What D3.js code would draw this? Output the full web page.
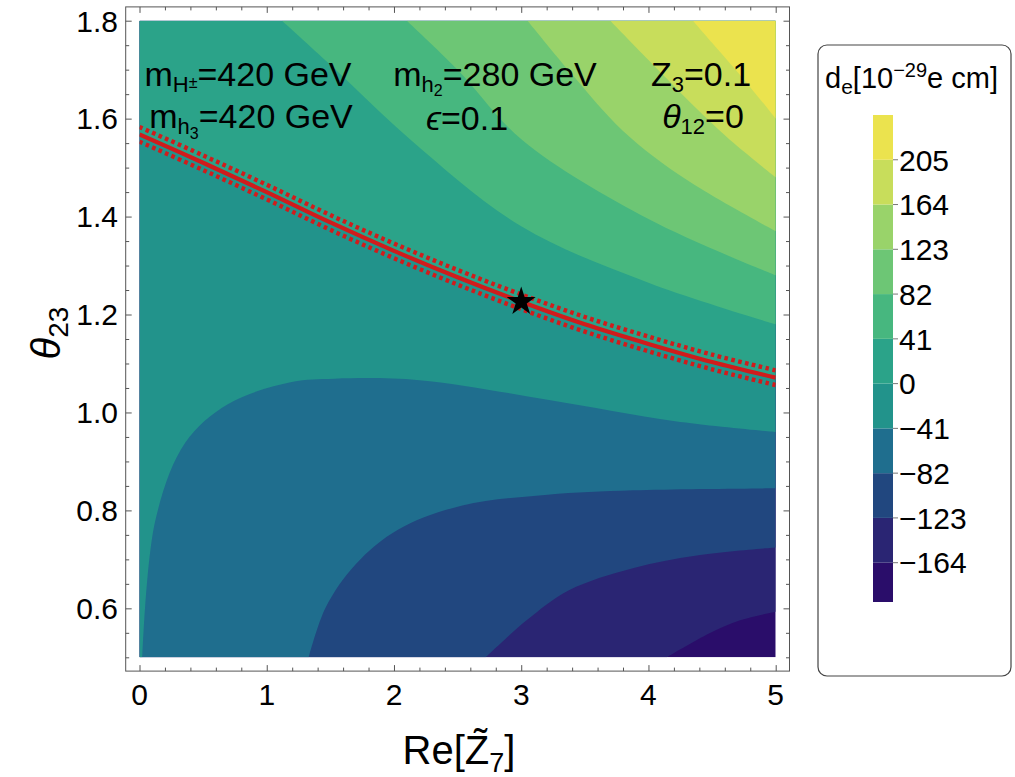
<!DOCTYPE html>
<html>
<head>
<meta charset="utf-8">
<script src="https://cdn.jsdelivr.net/npm/d3@7"></script>
<style>
  body { margin: 0; background: #fff; }
  svg { display: block; }
  text { font-family: "Liberation Sans", Arial, Helvetica, sans-serif; fill: #000; }
</style>
</head>
<body>
<svg id="chart" width="1015" height="777"></svg>
<script>
// contour levels of d_e and the colour of each band (lowest band first)
const levels = [-164, -123, -82, -41, 0, 41, 82, 123, 164, 205];
const bandColors = ["#2a0d6a", "#2a2573", "#21477f", "#1f6e8e", "#22938b", "#2ba389",
                    "#47b77f", "#6dc675", "#99d36a", "#c8dd5b", "#ebe34e"];
const cbarRange = [-200, 246];

// contour lines, [Re Z7, theta23]
const cm164 = [[4.145, 0.5], [4.48, 0.549], [4.715, 0.575], [5, 0.593]];
const cm123 = [[2.72, 0.5], [3.04, 0.575], [3.375, 0.637], [3.877, 0.682], [4.38, 0.708], [5, 0.724]];
const cm82 = [[1.33, 0.5], [1.464, 0.602], [1.699, 0.69], [2.034, 0.761], [2.537, 0.81],
              [3.207, 0.832], [3.877, 0.841], [5, 0.845]];
const cm41 = [[0.023, 0.5], [0.124, 0.779], [0.359, 0.938], [0.694, 1.017], [1.196, 1.062],
              [1.532, 1.069], [2.2, 1.066], [3.207, 1.026], [4.21, 0.982], [5, 0.96]];
const c0 = [[0, 1.568], [0.5, 1.51], [1, 1.45], [1.5, 1.388], [2, 1.33], [2.5, 1.276],
            [3, 1.226], [3.5, 1.18], [4, 1.14], [4.5, 1.103], [5, 1.071]];
const c41 = [[1.12, 1.8], [1.5, 1.71], [2.13, 1.557], [3, 1.38], [4, 1.265], [5, 1.18]];
const c82 = [[2.1, 1.8], [2.5, 1.7], [3.01, 1.556], [4, 1.395], [5, 1.28]];
const c123 = [[3.05, 1.8], [3.4, 1.69], [3.8, 1.575], [4.3, 1.475], [5, 1.37]];
const c164 = [[3.7, 1.8], [4.0, 1.72], [4.4, 1.615], [4.67, 1.55], [5, 1.48]];
const c205 = [[4.35, 1.8], [4.5, 1.755], [4.75, 1.68], [5, 1.6]];

// measured line (red) with its dotted band, and the benchmark point
const redLine = c0;
const redUpper = [[0, 1.583], [0.5, 1.525], [1, 1.465], [1.5, 1.403], [2, 1.345], [2.5, 1.291],
                  [3, 1.241], [3.5, 1.195], [4, 1.155], [4.5, 1.118], [5, 1.086]];
const redLower = [[0, 1.553], [0.5, 1.495], [1, 1.435], [1.5, 1.373], [2, 1.315], [2.5, 1.261],
                  [3, 1.211], [3.5, 1.165], [4, 1.125], [4.5, 1.088], [5, 1.056]];
const benchmark = [3.0, 1.226];

const xTicks = [0, 1, 2, 3, 4, 5];
const yTicks = [0.6, 0.8, 1.0, 1.2, 1.4, 1.6, 1.8];

const svg = d3.select("#chart");
const x = d3.scaleLinear().domain([0, 5]).range([139.5, 775.7]);
const y = d3.scaleLinear().domain([0.5, 1.8]).range([657.3, 20.7]);
const pad = 13.8;
const fx0 = x(0) - pad, fx1 = x(5) + pad, fy0 = y(1.8) - pad, fy1 = y(0.5) + pad;

svg.append("clipPath").attr("id", "plotclip")
  .append("rect")
  .attr("x", x(0)).attr("y", y(1.8))
  .attr("width", x(5) - x(0)).attr("height", y(0.5) - y(1.8));

const plot = svg.append("g").attr("clip-path", "url(#plotclip)");

// lowest band fills the whole region, every contour paints the side above it
plot.append("rect")
  .attr("x", x(0)).attr("y", y(1.8))
  .attr("width", x(5) - x(0)).attr("height", y(0.5) - y(1.8))
  .attr("fill", bandColors[0]);

const curve = d3.line().x(d => x(d[0])).y(d => y(d[1])).curve(d3.curveCatmullRom.alpha(0.5));
const leftSide = [[5, 1.8], [0, 1.8], [0, 0.5]];
const topSide = [[5, 1.8]];
const contours = [cm164, cm123, cm82, cm41, c0, c41, c82, c123, c164, c205];

contours.forEach((pts, i) => {
  const corners = levels[i] <= 0 ? leftSide : topSide;
  const d = curve(pts) + corners.map(c => "L" + x(c[0]) + "," + y(c[1])).join("") + "Z";
  plot.append("path").attr("d", d).attr("fill", bandColors[i + 1]);
});

// red line with dotted edges
[redUpper, redLower].forEach(pts => {
  plot.append("path").attr("d", curve(pts))
    .attr("fill", "none").attr("stroke", "#d01c1c")
    .attr("stroke-width", 4.4).attr("stroke-dasharray", "3.6,3.4");
});
plot.append("path").attr("d", curve(redLine))
  .attr("fill", "none").attr("stroke", "#d01c1c").attr("stroke-width", 4.2);

svg.append("path")
  .attr("d", d3.symbol(d3.symbolStar, 260)())
  .attr("transform", `translate(${x(benchmark[0])},${y(benchmark[1])})`)
  .attr("fill", "#000");

// text with sub/superscripts, s = shift down in px
function richText(sel, tx, ty, parts, size, anchor) {
  const t = sel.append("text").attr("x", tx).attr("y", ty)
    .attr("font-size", size).attr("text-anchor", anchor || "start");
  let cur = 0;
  parts.forEach(p => {
    const off = p.s || 0;
    const ts = t.append("tspan").attr("dy", off - cur).text(p.t);
    if (p.fs) ts.attr("font-size", p.fs);
    if (p.it) ts.attr("font-style", "italic");
    cur = off;
  });
  return t;
}

const ann = svg.append("g");
richText(ann, 248, 86, [{t: "m"}, {t: "H", s: 6, fs: 22}, {t: "±", s: 2, fs: 16}, {t: "=420 GeV"}], 34, "middle");
richText(ann, 251, 128, [{t: "m"}, {t: "h", s: 6, fs: 22}, {t: "3", s: 11, fs: 16}, {t: "=420 GeV"}], 34, "middle");
richText(ann, 495, 86, [{t: "m"}, {t: "h", s: 6, fs: 22}, {t: "2", s: 10, fs: 16}, {t: "=280 GeV"}], 34, "middle");
richText(ann, 467, 130, [{t: "ϵ", it: true}, {t: "=0.1"}], 34, "middle");
richText(ann, 701, 86, [{t: "Z"}, {t: "3", s: 6, fs: 22}, {t: "=0.1"}], 34, "middle");
richText(ann, 703, 128, [{t: "θ", it: true}, {t: "12", s: 6, fs: 22}, {t: "=0"}], 34, "middle");

// frame and ticks on all four sides
svg.append("rect")
  .attr("x", fx0).attr("y", fy0).attr("width", fx1 - fx0).attr("height", fy1 - fy0)
  .attr("fill", "none").attr("stroke", "#555").attr("stroke-width", 1);

const xMinor = d3.range(0, 5.001, 0.2).filter(v => Math.abs(v - Math.round(v)) > 1e-6);
const yMinor = d3.range(0.5, 1.801, 0.05).filter(v => Math.abs(v * 5 - Math.round(v * 5)) > 1e-6);

function tickAxes(axisFn, pos, scale, major, minor, isX) {
  [[major, 6], [minor, 3.5]].forEach(([vals, len]) => {
    const g = svg.append("g")
      .attr("transform", isX ? `translate(0,${pos})` : `translate(${pos},0)`)
      .call(axisFn(scale).tickValues(vals).tickSize(-len).tickFormat(""));
    g.select(".domain").remove();
    g.selectAll(".tick line").attr("stroke", "#555");
  });
}
tickAxes(d3.axisBottom, fy1, x, xTicks, xMinor, true);
tickAxes(d3.axisTop, fy0, x, xTicks, xMinor, true);
tickAxes(d3.axisLeft, fx0, y, yTicks, yMinor, false);
tickAxes(d3.axisRight, fx1, y, yTicks, yMinor, false);

svg.selectAll(".xlab").data(xTicks).enter().append("text")
  .attr("x", d => x(d)).attr("y", 705)
  .attr("text-anchor", "middle").attr("font-size", 30)
  .text(d => d3.format("d")(d));
svg.selectAll(".ylab").data(yTicks).enter().append("text")
  .attr("x", 118).attr("y", d => y(d)).attr("dy", "0.36em")
  .attr("text-anchor", "end").attr("font-size", 30)
  .text(d => d3.format(".1f")(d));

// axis titles
richText(svg, 459, 764, [{t: "Re[Z\u0303"}, {t: "7", s: 8, fs: 27}, {t: "]"}], 40, "middle");
richText(svg.append("g").attr("transform", `translate(60,${(y(0.5) + y(1.8)) / 2 - 6}) rotate(-90)`),
  0, 0, [{t: "θ", it: true}, {t: "23", s: 8, fs: 28}], 40, "middle");

// colour bar legend
const leg = svg.append("g");
leg.append("rect")
  .attr("x", 818).attr("y", 45).attr("width", 193).attr("height", 631).attr("rx", 9)
  .attr("fill", "#fff").attr("stroke", "#444").attr("stroke-width", 1.2);
richText(leg, 825, 88, [{t: "d"}, {t: "e", s: 6, fs: 21}, {t: "[10"}, {t: "−29", s: -11, fs: 20}, {t: "e cm]"}], 29);

const cb = d3.scaleLinear().domain(cbarRange).range([602, 115]);
const edges = [cbarRange[0]].concat(levels, [cbarRange[1]]);
leg.selectAll(".band").data(bandColors).enter().append("rect")
  .attr("x", 873).attr("width", 20)
  .attr("y", (c, i) => cb(edges[i + 1]))
  .attr("height", (c, i) => cb(edges[i]) - cb(edges[i + 1]))
  .attr("fill", c => c);
leg.selectAll(".cbt").data(levels).enter().append("line")
  .attr("x1", 893).attr("x2", 898)
  .attr("y1", d => cb(d)).attr("y2", d => cb(d))
  .attr("stroke", "#777");
leg.selectAll(".cbl").data(levels).enter().append("text")
  .attr("x", 899).attr("y", d => cb(d)).attr("dy", "0.36em")
  .attr("font-size", 30)
  .text(d => d < 0 ? "\u2212" + Math.abs(d) : d);
</script>
</body>
</html>
